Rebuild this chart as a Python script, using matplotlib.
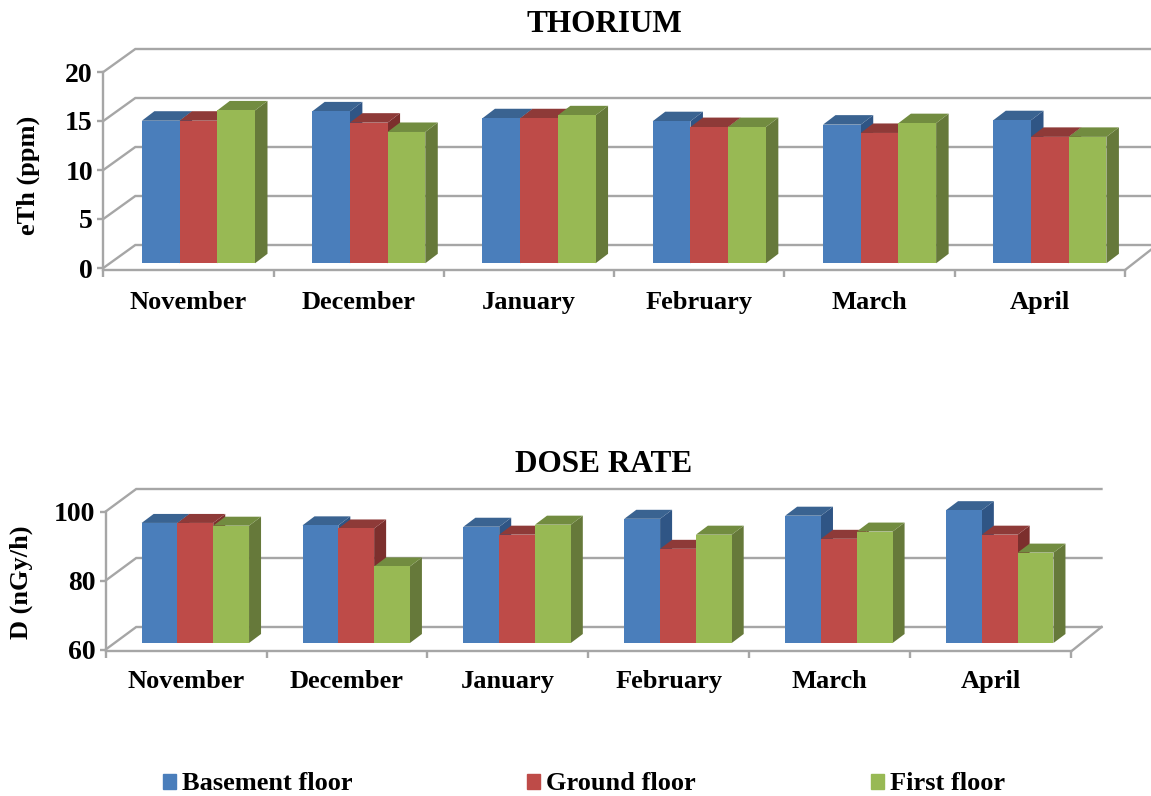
import numpy as np
import matplotlib
matplotlib.use('Agg')
import matplotlib.pyplot as plt
from matplotlib.patches import Patch

plt.rcParams['font.family'] = ['Liberation Serif', 'DejaVu Serif']
plt.rcParams['font.weight'] = 'bold'

months = ['November', 'December', 'January', 'February', 'March', 'April']
series = ['Basement floor', 'Ground floor', 'First floor']

th_basement = [14.55, 15.5, 14.8, 14.5, 14.15, 14.6]
th_ground = [14.55, 14.35, 14.8, 13.9, 13.3, 12.9]
th_first = [15.6, 13.4, 15.1, 13.9, 14.3, 12.9]

dose_basement = [94.8, 94.1, 93.7, 96.0, 96.9, 98.5]
dose_ground = [94.8, 93.2, 91.4, 87.3, 90.2, 91.4]
dose_first = [94.0, 82.2, 94.3, 91.4, 92.3, 86.2]

front_col = ['#4A7EBB', '#BE4B48', '#98B954']
top_col = ['#3A6391', '#8E3A38', '#728C40']
side_col = ['#2F5585', '#7C2F2D', '#66793A']
GRID = '#A6A6A6'
W, H = 1151, 796


def panel(box, ylim, yticks, vals, title, title_y, ylabel, ylabel_x, ylabel_y,
          wall, bar_depth, bar_shift, bar_w, xpad):
    # box is left, right, y of low value, y of high value, in pixels
    left, right, y0, y1 = box
    ax = plt.gcf().add_axes([left / W, 1 - y0 / H, (right - left) / W, (y0 - y1) / H])
    ax.set_xlim(0, 6)
    ax.set_ylim(*ylim)
    ax.patch.set_alpha(0)
    xs = (right - left) / 6.0
    ys = (y0 - y1) / float(ylim[1] - ylim[0])

    # back wall lines and floor
    wx, wy = wall[0] / xs, wall[1] / ys
    for t in yticks:
        ax.plot([0, wx, 6 + wx], [t, t + wy, t + wy], color=GRID, lw=1.7,
                clip_on=False, zorder=1, solid_joinstyle='miter')
    ax.plot([6, 6 + wx], [ylim[0] - 2 / ys, ylim[0] + wy], color=GRID, lw=1.7,
            clip_on=False, zorder=1)

    # bars, one series after another so the later ones overlap the earlier sides
    dx, dy = bar_depth[0] / xs, bar_depth[1] / ys
    sx, sy = bar_shift[0] / xs, bar_shift[1] / ys
    bw = bar_w / xs
    z = 2
    for s, v in enumerate(vals):
        for i, val in enumerate(v):
            x0 = i + 0.5 + sx + (s - 1.5) * bw
            x1 = x0 + bw
            base = ylim[0] + sy
            top = base + (val - ylim[0])
            ax.fill([x1, x1 + dx, x1 + dx, x1], [base, base + dy, top + dy, top],
                    color=side_col[s], lw=0, clip_on=False, zorder=z)
            ax.fill([x0, x0 + dx, x1 + dx, x1], [top, top + dy, top + dy, top],
                    color=top_col[s], lw=0, clip_on=False, zorder=z)
            ax.bar(x0, top - base, bw, bottom=base, align='edge', color=front_col[s],
                   lw=0, clip_on=False, zorder=z + 0.5)
        z += 1

    for name in ['top', 'right']:
        ax.spines[name].set_visible(False)
    for name in ['left', 'bottom']:
        ax.spines[name].set_color(GRID)
        ax.spines[name].set_linewidth(1.7)
    ax.spines['bottom'].set_position(('outward', 1.4))

    ax.set_yticks(yticks)
    ax.set_xticks(range(7))
    ax.set_xticklabels([])
    ax.set_xticks(np.arange(6) + 0.5, months, minor=True)
    ax.tick_params(axis='y', length=4.5, width=1.7, color=GRID, labelsize=20, pad=3)
    ax.tick_params(axis='x', which='major', length=5, width=1.7, color=GRID)
    ax.tick_params(axis='x', which='minor', length=0, labelsize=19, pad=xpad)

    plt.gcf().text(604 / W, 1 - title_y / H, title, ha='center',
                   va='center', fontsize=22.5, fontweight='bold')
    plt.gcf().text(ylabel_x / W, 1 - ylabel_y / H, ylabel, rotation=90, ha='center',
                   va='center', fontsize=19, fontweight='bold')
    return ax


fig = plt.figure(figsize=(W / 100.0, H / 100.0), dpi=100)

panel((103.3, 1125, 268, 72), (0, 20), [0, 5, 10, 15, 20],
      [th_basement, th_ground, th_first], 'THORIUM', 24, 'eTh (ppm)', 28, 175,
      (32, 23), (12.5, 9.5), (10, 4.7), 37.7, 15)
panel((105.7, 1071, 649.5, 511.5), (60, 100), [60, 80, 100],
      [dose_basement, dose_ground, dose_first], 'DOSE RATE', 464, 'D (nGy/h)', 21, 582,
      (30.5, 22.5), (12, 9), (9.2, 6.5), 35.8, 13.5)

handles = [Patch(color=c) for c in front_col]
fig.legend(handles, series, ncol=3, loc='center', bbox_to_anchor=(584 / W, 1 - 784 / H),
           frameon=False, fontsize=19, handlelength=0.49, handleheight=0.49,
           handletextpad=0.23, columnspacing=6.62)

fig.savefig('out.png', dpi=100)
